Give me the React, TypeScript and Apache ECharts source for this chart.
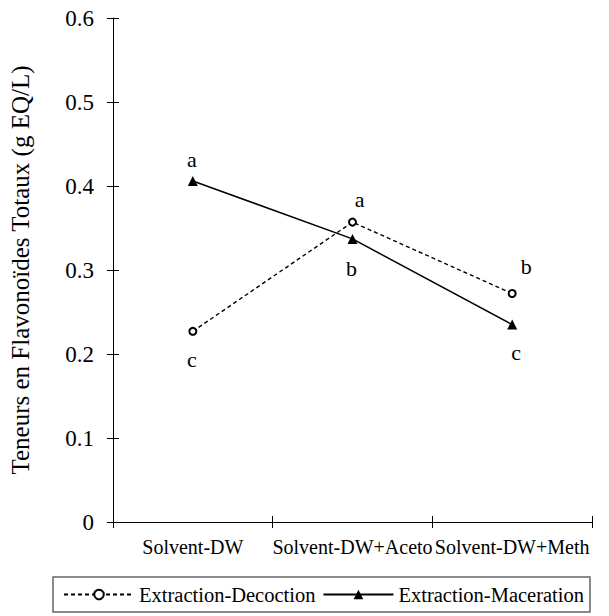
import React, { useEffect, useRef } from "react";
import * as echarts from "echarts";

const categories = ["Solvent-DW", "Solvent-DW+Aceto", "Solvent-DW+Meth"];
const decoction = [0.227, 0.357, 0.272];
const maceration = [0.406, 0.337, 0.235];
const decoctionLetters = ["c", "a", "b"];
const macerationLetters = ["a", "b", "c"];
const yAxisName = "Teneurs en Flavonoïdes Totaux (g EQ/L)";
const seriesNames = ["Extraction-Decoction", "Extraction-Maceration"];

// label offsets (styling, not data)
const decOffsets = [[-1, 28], [7, -23], [14, -27]];
const macOffsets = [[-1, -21], [-1, 30], [4, 28]];

const FONT = "Liberation Serif";

export default function App() {
  const ref = useRef<HTMLDivElement>(null);
  useEffect(() => {
    if (!ref.current) return;
    const chart = echarts.init(ref.current, null, { renderer: "svg" });
    const mkData = (vals: number[], letters: string[], offs: number[][]) =>
      vals.map((v, i) => ({
        value: v,
        label: {
          show: true,
          formatter: letters[i],
          position: "inside",
          offset: offs[i],
          color: "#000",
          fontSize: 22,
          fontFamily: FONT,
        },
      }));
    chart.setOption({
      animation: false,
      backgroundColor: "#fff",
      textStyle: { fontFamily: FONT, color: "#000" },
      grid: { left: 106, right: 17, top: 18, bottom: 94, containLabel: false },
      legend: {
        left: 53,
        top: 577,
        orient: "horizontal",
        data: seriesNames,
        itemWidth: 70,
        itemHeight: 12,
        itemGap: 7,
        padding: [7, 6, 7, 10],
        borderColor: "#666",
        borderWidth: 1.5,
        textStyle: { fontSize: 20.5, fontFamily: FONT, color: "#000" },
      },
      xAxis: [
        {
          type: "category",
          data: categories,
          boundaryGap: true,
          position: "bottom",
          axisLine: { lineStyle: { color: "#000", width: 1 } },
          axisTick: { show: true, length: 6, lineStyle: { color: "#000" } },
          axisLabel: { interval: 0, fontSize: 20, color: "#000", fontFamily: FONT, margin: 15 },
          splitLine: { show: false },
        },
        {
          type: "category",
          data: categories,
          boundaryGap: true,
          position: "bottom",
          axisLine: { show: false },
          axisTick: { show: true, inside: true, length: 6, lineStyle: { color: "#000" } },
          axisLabel: { show: false },
          splitLine: { show: false },
        },
      ],
      yAxis: [
        {
          type: "value",
          min: 0,
          max: 0.6,
          interval: 0.1,
          position: "left",
          name: yAxisName,
          nameLocation: "middle",
          nameGap: 80,
          nameTextStyle: { fontSize: 25, color: "#000", fontFamily: FONT },
          axisLine: { show: true, lineStyle: { color: "#000", width: 1 } },
          axisTick: { show: true, length: 6, lineStyle: { color: "#000" } },
          axisLabel: { fontSize: 23, color: "#000", fontFamily: FONT, margin: 19 },
          splitLine: { show: false },
        },
        {
          type: "value",
          min: 0,
          max: 0.6,
          interval: 0.1,
          position: "left",
          axisLine: { show: false },
          axisTick: { show: true, inside: true, length: 6, lineStyle: { color: "#000" } },
          axisLabel: { show: false },
          splitLine: { show: false },
        },
      ],
      series: [
        {
          name: seriesNames[0],
          type: "line",
          data: mkData(decoction, decoctionLetters, decOffsets),
          symbol: "emptyCircle",
          symbolSize: 7,
          itemStyle: { color: "#000", borderColor: "#000", borderWidth: 1.5 },
          lineStyle: { color: "#000", width: 1.4, type: [4, 3] },
          z: 3,
        },
        {
          name: seriesNames[1],
          type: "line",
          data: mkData(maceration, macerationLetters, macOffsets),
          symbol: "triangle",
          symbolSize: 10,
          itemStyle: { color: "#000" },
          lineStyle: { color: "#000", width: 1.5, type: "solid" },
          z: 2,
        },
      ],
    });
    return () => chart.dispose();
  }, []);
  return (
    <div
      ref={ref}
      style={{ position: "fixed", left: 0, top: 0, width: 609, height: 616, background: "#fff" }}
    />
  );
}
